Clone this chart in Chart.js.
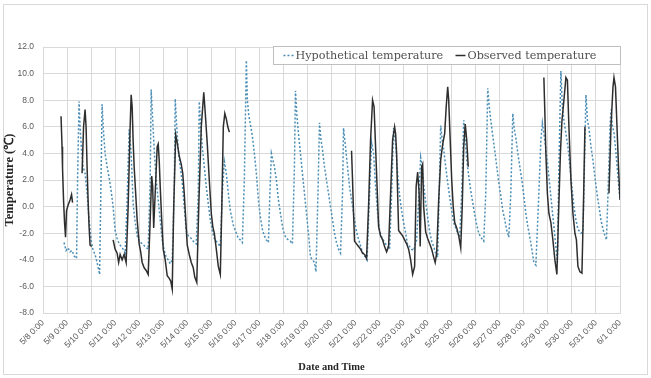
<!DOCTYPE html>
<html><head><meta charset="utf-8">
<script src="https://cdn.jsdelivr.net/npm/chart.js@4.4.1/dist/chart.umd.min.js"></script>
<style>
html,body{margin:0;padding:0;background:#fff;}
#wrap{position:relative;width:651px;height:378px;}
canvas{display:block;}
</style></head><body>
<div id="wrap"><canvas id="c" width="651" height="378"></canvas></div>
<script>
// X tick labels (one per day, hours since 5/8 0:00 = index*24)
const tickLabels = ['5/8 0:00','5/9 0:00','5/10 0:00','5/11 0:00','5/12 0:00','5/13 0:00','5/14 0:00','5/15 0:00',
  '5/16 0:00','5/17 0:00','5/18 0:00','5/19 0:00','5/20 0:00','5/21 0:00','5/22 0:00','5/23 0:00','5/24 0:00',
  '5/25 0:00','5/26 0:00','5/27 0:00','5/28 0:00','5/29 0:00','5/30 0:00','5/31 0:00','6/1 0:00'];

// Hypothetical temperature: hours since 5/8 0:00, and °C
const hypoHours = [21,23,25,27,29,31,33.5,34.5,36,37,38.5,40,42,44,46,48,50,52,54,56.5,58,59,60.5,62,64,66,68,70,72,74,76,78,80,82,84,86,88,90,92,94,96,99,102,105,107,108,109.5,111,113,115,117,119,121,123,125,127,129,131,132,133.5,135,137,139,141,143,145,147,150,153,155,156,157.5,159,161,163,165,167,169,171,173,175,177,179,181,183,185,187,190,193,195,197,199,201,203,204,205.5,207,209,211,213,215,217,219,221,223,225,226.5,228,229.5,231,233,235,237,239,241,243,245,247,249,251,252,253.5,255,257,259,261,263,265,267,269,271,272.5,274.5,276,277.5,279,281,283,285,287,289,291,293,295,297,299,300,302,304,306,308,310,312,314,316,318,320,322,323.5,325.5,328,330,332,334,336,338,341,344,346,348,350,352,354,356,358,360,362,364,366,368,370,373,375,377,378.5,380,382,384,386,388,390,392,394,395.5,397,398.5,400,402,404,406,408,410,412,414,416,418,420,421.5,423,425,427,429,431,433,435,437,440,442,444,445.5,447,449,451,453,455,457,459,461,463,465,467,469,470.5,472,474,476,478,480,482,484,486,488,490,492,495,497,498.5,500,502,504,506,508,510,512,513.5,515,517,518.5,520,522,524,526,528,530,532,534,537,539,540.5,542,543.5,545,547,549,551,553,555,557,559,561,562.5,564,566,567,568.5,570,572,574,576];
const hypoTemps = [-2.7,-3.3,-3.1,-3.4,-3.3,-3.7,-3.9,2.0,7.9,6.0,4.2,3.0,2.5,1.0,-1.0,-2.5,-3.3,-3.6,-4.2,-5.1,2.5,7.7,5.5,4.0,3.0,2.2,1.2,0.0,-1.8,-2.4,-2.8,-3.0,-3.2,-3.5,0.5,5.8,4.0,0.2,-1.2,-2.2,-2.6,-2.8,-3.0,-3.2,2.0,8.8,6.5,4.3,2.0,0.5,-1.0,-2.5,-3.3,-3.8,-4.0,-4.3,-4.0,1.0,8.1,6.0,4.3,3.0,1.8,0.0,-1.8,-2.2,-2.3,-2.6,-2.8,1.0,7.9,6.0,4.5,3.0,1.5,0.2,-1.0,-1.8,-2.4,-2.6,-2.8,-3.0,1.0,3.4,2.5,1.0,-0.3,-1.4,-2.0,-2.4,-2.5,-2.7,2.0,11.0,8.0,6.8,6.2,5.3,4.0,2.5,0.5,-0.8,-1.7,-2.2,-2.5,-2.7,1.0,4.0,3.5,3.0,2.0,0.5,-0.5,-1.5,-2.1,-2.4,-2.5,-2.6,-2.8,3.0,8.7,6.8,5.5,4.0,2.5,1.0,-0.5,-2.0,-3.8,-4.0,-4.2,-4.9,1.0,6.3,5.0,4.3,3.0,2.0,1.0,0.0,-1.0,-2.0,-2.7,-3.2,-3.5,1.0,5.9,4.5,3.0,1.5,0.5,-0.5,-1.5,-2.2,-2.7,-3.2,-3.6,-3.8,-4.0,0.0,4.8,4.0,1.5,-0.5,-1.8,-2.3,-2.7,-3.0,-3.2,1.0,5.9,4.7,2.5,0.8,-0.3,-1.2,-2.0,-2.9,-3.0,-3.2,-3.3,-2.5,0.5,3.7,3.0,1.7,0.3,-0.8,-1.9,-2.6,-3.0,-3.5,-3.8,1.0,6.1,5.0,4.3,3.0,1.8,0.7,-0.3,-1.2,-1.6,-2.0,-2.3,1.0,6.5,5.0,3.5,2.3,1.2,0.3,-0.6,-1.4,-2.0,-2.3,-2.6,1.0,8.9,7.5,6.5,5.3,4.2,3.0,1.8,0.8,-0.3,-1.0,-1.8,-2.3,1.0,7.0,5.8,5.2,4.0,3.0,2.0,0.8,-0.5,-1.5,-2.3,-3.2,-4.2,-4.4,1.0,5.0,6.3,5.5,4.3,3.0,1.5,0.0,-1.5,-3.0,-4.2,3.0,10.2,7.5,6.5,5.5,4.5,3.0,1.5,0.0,-1.0,-1.7,-2.0,-1.9,3.0,8.4,6.5,5.9,4.5,3.5,2.2,1.0,0.0,-1.0,-1.7,-2.2,-2.5,1.0,6.0,7.3,6.0,5.6,4.0,2.2,0.5];

// Observed temperature (null = no observation)
const obsHours = [18,19,19.5,20.5,21.5,22.5,23.5,25,27,28.5,29.5,34,39,40.5,42,43,44,45,46,47,48.5,60,70,72,74,75.5,77,79,81,83,85,87,88,89,90,91,92.5,94,96,97.5,99,101,103,105,107,108.5,109.5,110.5,112,114,115,116,117,118.5,120,122,124,126,127.5,129,130.5,132.5,134,136,138,139.5,141,142.5,144,146,148,150,151.5,153.5,155.5,158,160.5,162,164,166,168,169.5,171,173,175,177,178.5,180,181.5,183,184.5,186,250,308,309,310,311,313,315,317,319,321,323,325,327,329,330.5,332,333.5,335,337,339,341,343,345,347,349,351,352,353,354,355,357,359,361,363,365,367,369,371,372.5,374,375.5,376.5,378,379,380,382,384,386,388,390,391.5,393,395,397,399,401,402.5,404,405,406.5,408,409.5,411,413,415,417,418.5,420,421.5,423,424.5,460,500,501,502,503.5,505,507,509,511,513,514.5,516.5,518,520,522,523.5,525,527,529,531,532.5,534,536,538,539.5,541,552,565,567,569,570,571.5,573,574.5,576];
const obsTemps = [6.8,4.5,2.9,0.5,-1.2,-2.3,-0.3,0.1,0.5,0.9,0.3,null,2.5,6.0,7.3,6.0,3.0,0.5,-1.5,-2.9,-3.0,null,-2.5,-3.2,-3.5,-4.2,-3.6,-4.0,-3.6,-4.2,0.0,6.0,8.4,7.5,4.9,3.0,1.0,-1.0,-2.8,-3.4,-4.2,-4.6,-4.8,-5.1,-1.0,2.3,1.5,-1.6,1.0,4.5,4.7,3.5,1.5,-1.0,-3.2,-4.0,-5.2,-5.4,-5.6,-6.2,0.0,5.4,4.8,3.8,3.2,2.5,1.0,-1.0,-2.9,-3.6,-4.2,-4.6,-5.3,-5.7,0.0,6.0,8.6,7.0,4.7,2.0,-0.5,-1.5,-2.0,-3.2,-4.5,-5.1,0.0,6.0,7.0,6.6,6.0,5.6,null,4.2,2.0,-0.5,-2.6,-2.8,-3.0,-3.2,-3.5,-3.6,-3.9,0.0,5.0,8.0,7.5,4.5,1.5,-1.5,-2.2,-2.5,-3.0,-3.4,-3.0,1.0,5.0,6.0,5.5,4.0,1.0,-1.8,-2.0,-2.2,-2.5,-2.8,-3.2,-4.0,-5.1,-4.5,1.5,2.6,1.0,-3.0,3.0,3.2,0.0,-1.9,-2.4,-2.8,-3.2,-3.8,-4.2,-3.5,0.5,3.5,4.7,5.5,7.5,9.0,8.0,5.0,2.0,0.0,-1.2,-1.6,-2.2,-3.1,0.0,4.5,6.2,5.0,3.0,null,9.7,7.0,4.0,1.0,-0.5,-1.2,-2.5,-4.0,-5.1,-1.0,4.0,6.4,8.0,9.7,9.5,6.0,2.0,-0.5,-2.0,-2.5,-4.5,-4.9,-5.0,0.0,6.0,null,1.0,6.0,9.0,9.7,9.0,6.0,3.0,0.5];

const yMin = -8, yMax = 12, yStep = 2;

const toPoints = (xs, ys) => xs.map((x, i) => ({x: x, y: ys[i]}));

const frame = {
  id: 'frame',
  beforeDraw(chart) {
    const ctx = chart.ctx;
    ctx.save();
    ctx.fillStyle = '#ffffff';
    ctx.fillRect(0, 0, chart.width, chart.height);
    ctx.strokeStyle = '#d9d9d9';
    ctx.lineWidth = 1;
    ctx.strokeRect(3.5, 4.5, chart.width - 7, chart.height - 8);
    ctx.restore();
  }
};

const boxLegend = {
  id: 'boxLegend',
  afterDraw(chart) {
    const ctx = chart.ctx;
    const ds = chart.data.datasets;
    const l = 273.5, t = 46.5, r = chart.chartArea.right + 0.5, b = 64.5;
    ctx.save();
    ctx.fillStyle = '#ffffff';
    ctx.fillRect(l, t, r - l, b - t);
    ctx.strokeStyle = '#bfbfbf';
    ctx.lineWidth = 1;
    ctx.strokeRect(l, t, r - l, b - t);
    const y = (t + b) / 2;
    const items = [{sx: l + 10, sw: 10, tx: l + 22}, {sx: l + 182, sw: 10, tx: l + 194}];
    ctx.font = '11.2px "DejaVu Serif", serif';
    ctx.textBaseline = 'middle';
    ctx.textAlign = 'left';
    ds.forEach((d, i) => {
      const it = items[i];
      ctx.setLineDash(d.borderDash || []);
      ctx.strokeStyle = d.borderColor;
      ctx.lineWidth = d.borderWidth;
      ctx.beginPath();
      ctx.moveTo(it.sx, y);
      ctx.lineTo(it.sx + it.sw, y);
      ctx.stroke();
      ctx.setLineDash([]);
      ctx.fillStyle = '#505050';
      ctx.fillText(d.label, it.tx, y + 0.5);
    });
    ctx.restore();
  }
};

new Chart(document.getElementById('c'), {
  type: 'line',
  data: {
    datasets: [
      {
        label: 'Hypothetical temperature',
        data: toPoints(hypoHours, hypoTemps),
        borderColor: '#4a8db5',
        borderWidth: 1.5,
        borderDash: [2, 2],
        pointRadius: 0,
        tension: 0,
        order: 1
      },
      {
        label: 'Observed temperature',
        data: toPoints(obsHours, obsTemps),
        borderColor: '#2e2e2e',
        borderWidth: 1.5,
        pointRadius: 0,
        tension: 0,
        spanGaps: false,
        order: 0
      }
    ]
  },
  options: {
    responsive: false,
    animation: false,
    devicePixelRatio: 1,
    layout: { padding: { left: 0, right: 31, top: 47, bottom: 0 } },
    plugins: { legend: { display: false }, tooltip: { enabled: false } },
    scales: {
      x: {
        type: 'linear',
        min: 0,
        max: (tickLabels.length - 1) * 24,
        afterFit(scale) { scale.height = 65; },
        afterBuildTicks(scale) {
          scale.ticks = tickLabels.map((_, i) => ({value: i * 24}));
        },
        grid: { color: '#d9d9d9', drawTicks: false },
        border: { color: '#d9d9d9' },
        ticks: {
          autoSkip: false,
          maxRotation: 45,
          minRotation: 45,
          padding: 5,
          color: '#595959',
          font: { family: '"Liberation Sans", Arial, sans-serif', size: 8.5 },
          callback: (v) => tickLabels[Math.round(v / 24)]
        },
        title: {
          display: true,
          text: 'Date and Time',
          color: '#262626',
          padding: { top: 0, bottom: 4 },
          font: { family: '"Liberation Serif", "Times New Roman", serif', size: 10.5, weight: 'bold' }
        }
      },
      y: {
        min: yMin,
        max: yMax,
        afterFit(scale) { scale.width = 43; },
        grid: { color: '#d9d9d9', drawTicks: false },
        border: { color: '#d9d9d9' },
        ticks: {
          stepSize: yStep,
          padding: 9,
          color: '#595959',
          font: { family: '"Liberation Sans", Arial, sans-serif', size: 8.5 },
          callback: (v) => Number(v).toFixed(1)
        },
        title: {
          display: true,
          text: 'Temperature (℃)',
          color: '#262626',
          padding: { top: 2, bottom: 0 },
          font: { family: '"Liberation Serif", "Times New Roman", serif', size: 12.5, weight: 'bold' }
        }
      }
    }
  },
  plugins: [frame, boxLegend]
});
</script>
</body></html>
